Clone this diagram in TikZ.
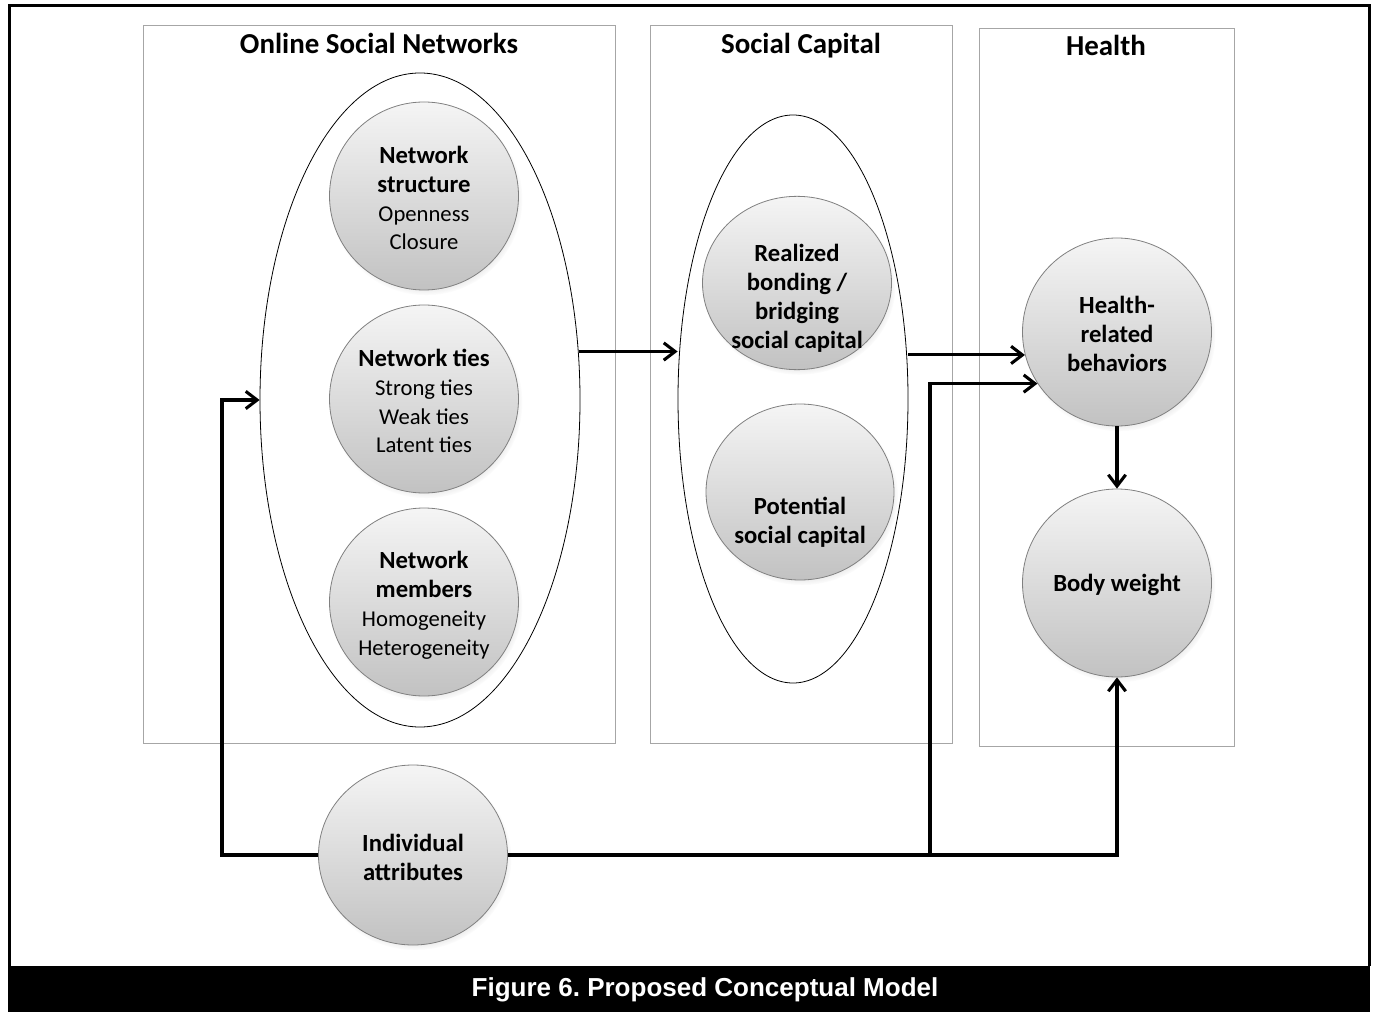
\documentclass[tikz,border=0pt]{standalone}
\usepackage{fontspec}
\setmainfont{Carlito}
\newfontfamily\capfont{Liberation Sans}
\usetikzlibrary{shapes.geometric,shadows,arrows.meta}

\newcommand{\hd}[1]{{\fontsize{18.5}{21.7}\selectfont\bfseries #1}}

\tikzset{
  panel/.style={draw=black!35, line width=0.75pt},
  ring/.style={ellipse, draw, line width=0.6pt, inner sep=0pt},
  ball/.style={ellipse, draw=black!50, line width=0.6pt, inner sep=0pt,
    top color=black!4, bottom color=black!24,
    circular drop shadow={shadow xshift=1.5pt, shadow yshift=-2.5pt, shadow scale=1.02, opacity=.3}},
  txt/.style={align=center, inner sep=0pt, font=\fontsize{17}{21.7}\selectfont},
  ttl/.style={anchor=base, inner sep=0pt, font=\fontsize{21.7}{26}\selectfont\bfseries},
  arr/.style={line width=2.3pt, -{Straight Barb[length=8.5pt, width=13pt]}},
}

\begin{document}
\begin{tikzpicture}[x=0.75pt, y=-0.75pt]

  \useasboundingbox (0,0) rectangle (1377,1012);
  \fill[white] (0,0) rectangle (1377,1012);

  % frame and caption bar
  \draw[line width=2.25pt] (9,966) |- (1369,6) -- (1369,966);
  \fill[black] (8,966) rectangle (1370,1012);
  \node[text=white, font=\capfont\fontsize{19.5}{22}\selectfont\bfseries] (cap) at (705,990) {\frenchspacing Figure 6. Proposed Conceptual Model};

  % panels
  \draw[panel] (143,26) rectangle (615,743);
  \draw[panel] (650,26) rectangle (952,743);
  \draw[panel] (979,29) rectangle (1234,746);

  \node[ttl] (h1) at (379,54) {Online Social Networks};
  \node[ttl] (h2) at (801,54) {Social Capital};
  \node[ttl] (h3) at (1106,56) {Health};

  % circles
  \node[ball, minimum width=141.75pt, minimum height=141pt] (1) at (424,196) {};
  \node[ball, minimum width=141.75pt, minimum height=141pt] (2) at (424,399) {};
  \node[ball, minimum width=141.75pt, minimum height=141pt] (3) at (424,602) {};
  \node[ball, minimum width=141.75pt, minimum height=130pt] (4) at (797,283) {};
  \node[ball, minimum width=141pt, minimum height=132pt] (5) at (800,492) {};
  \node[ball, minimum width=141.75pt, minimum height=141pt] (6) at (1117,332) {};
  \node[ball, minimum width=141.75pt, minimum height=141pt] (7) at (1117,583) {};
  \node[ball, minimum width=141.75pt, minimum height=135pt] (8) at (413,855) {};

  \node[txt] (1t) at (424,198) {\hd{Network}\\\hd{structure}\\Openness\\Closure};
  \node[txt] (2t) at (424,401) {\hd{Network ties}\\Strong ties\\Weak ties\\Latent ties};
  \node[txt] (3t) at (424,605) {\hd{Network}\\\hd{members}\\Homogeneity\\Heterogeneity};
  \node[txt] (4t) at (797,298) {\hd{Realized}\\\hd{bonding /}\\\hd{bridging}\\\hd{social capital}};
  \node[txt] (5t) at (800,522) {\hd{Potential}\\\hd{social capital}};
  \node[txt] (6t) at (1117,334) {\hd{Health-}\\\hd{related}\\\hd{behaviors}};
  \node[txt] (7t) at (1117,585) {\hd{Body weight}};
  \node[txt] (8t) at (413,857) {\hd{Individual}\\\hd{attributes}};

  % groups
  \node[ring, minimum width=240pt, minimum height=490.5pt] (e1) at (420,400) {};
  \node[ring, minimum width=172.5pt, minimum height=426pt] (e2) at (793,399) {};

  % paths
  \coordinate (k1) at (222,855);
  \coordinate (k2) at (930,855);
  \draw[arr] (e1.17) -- (e1.17 -| e2.west);
  \draw[arr] (e2.east |- 6.194) -- (6.194);
  \draw[arr] (8.west) -- (k1) |- (e1.west);
  \draw[arr] (8.east) -| (7.south);
  \draw[arr] (k2) |- (6.213);
  \draw[arr] (6) -- (7);

\end{tikzpicture}
\end{document}
